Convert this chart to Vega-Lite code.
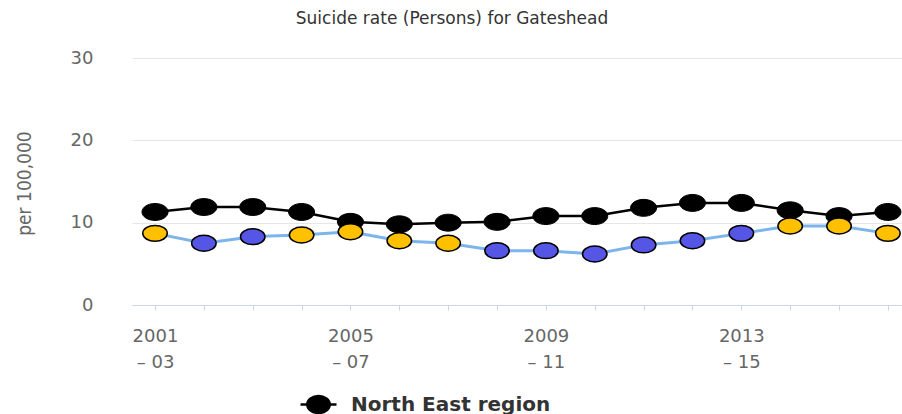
{
  "$schema": "https://vega.github.io/schema/vega-lite/v6.json",
  "width": 770,
  "height": 247,
  "autosize": {"type": "none"},
  "padding": {"left": 132, "top": 58, "right": 0, "bottom": 109},
  "background": "white",
  "title": {
    "text": "Suicide rate (Persons) for Gateshead",
    "font": "DejaVu Sans",
    "fontSize": 17,
    "fontWeight": "normal",
    "color": "#333333",
    "anchor": "middle",
    "frame": "group",
    "dx": -65,
    "offset": 21
  },
  "data": {
    "values": [
      {"period": "2001 – 03", "area": "North East region", "value": 11.3, "sig": "NE"},
      {"period": "2002 – 04", "area": "North East region", "value": 11.9, "sig": "NE"},
      {"period": "2003 – 05", "area": "North East region", "value": 11.9, "sig": "NE"},
      {"period": "2004 – 06", "area": "North East region", "value": 11.3, "sig": "NE"},
      {"period": "2005 – 07", "area": "North East region", "value": 10.1, "sig": "NE"},
      {"period": "2006 – 08", "area": "North East region", "value": 9.8, "sig": "NE"},
      {"period": "2007 – 09", "area": "North East region", "value": 10.0, "sig": "NE"},
      {"period": "2008 – 10", "area": "North East region", "value": 10.1, "sig": "NE"},
      {"period": "2009 – 11", "area": "North East region", "value": 10.8, "sig": "NE"},
      {"period": "2010 – 12", "area": "North East region", "value": 10.8, "sig": "NE"},
      {"period": "2011 – 13", "area": "North East region", "value": 11.8, "sig": "NE"},
      {"period": "2012 – 14", "area": "North East region", "value": 12.4, "sig": "NE"},
      {"period": "2013 – 15", "area": "North East region", "value": 12.4, "sig": "NE"},
      {"period": "2014 – 16", "area": "North East region", "value": 11.5, "sig": "NE"},
      {"period": "2015 – 17", "area": "North East region", "value": 10.8, "sig": "NE"},
      {"period": "2016 – 18", "area": "North East region", "value": 11.3, "sig": "NE"},
      {"period": "2001 – 03", "area": "Gateshead", "value": 8.7, "sig": "Similar"},
      {"period": "2002 – 04", "area": "Gateshead", "value": 7.5, "sig": "Lower"},
      {"period": "2003 – 05", "area": "Gateshead", "value": 8.3, "sig": "Lower"},
      {"period": "2004 – 06", "area": "Gateshead", "value": 8.5, "sig": "Similar"},
      {"period": "2005 – 07", "area": "Gateshead", "value": 8.9, "sig": "Similar"},
      {"period": "2006 – 08", "area": "Gateshead", "value": 7.8, "sig": "Similar"},
      {"period": "2007 – 09", "area": "Gateshead", "value": 7.5, "sig": "Similar"},
      {"period": "2008 – 10", "area": "Gateshead", "value": 6.6, "sig": "Lower"},
      {"period": "2009 – 11", "area": "Gateshead", "value": 6.6, "sig": "Lower"},
      {"period": "2010 – 12", "area": "Gateshead", "value": 6.2, "sig": "Lower"},
      {"period": "2011 – 13", "area": "Gateshead", "value": 7.3, "sig": "Lower"},
      {"period": "2012 – 14", "area": "Gateshead", "value": 7.8, "sig": "Lower"},
      {"period": "2013 – 15", "area": "Gateshead", "value": 8.7, "sig": "Lower"},
      {"period": "2014 – 16", "area": "Gateshead", "value": 9.6, "sig": "Similar"},
      {"period": "2015 – 17", "area": "Gateshead", "value": 9.6, "sig": "Similar"},
      {"period": "2016 – 18", "area": "Gateshead", "value": 8.7, "sig": "Similar"}
    ]
  },
  "encoding": {
    "x": {
      "field": "period",
      "type": "ordinal",
      "sort": null,
      "scale": {"type": "point", "padding": 0.38, "align": 0.62},
      "axis": {
        "title": null,
        "labelAngle": 0,
        "labelOverlap": false,
        "labelExpr": "(toNumber(slice(datum.value,0,4)) - 2001) % 4 == 0 ? [slice(datum.value,0,4), slice(datum.value,5)] : ''",
        "labelFont": "DejaVu Sans",
        "labelFontSize": 18,
        "labelColor": "#666666",
        "labelLineHeight": 26,
        "labelPadding": 17,
        "labelBaseline": "top",
        "domainColor": "#ccd6eb",
        "domainWidth": 1,
        "tickColor": "#ccd6eb",
        "tickSize": 5,
        "grid": false
      }
    },
    "y": {
      "field": "value",
      "type": "quantitative",
      "scale": {"domain": [0, 30], "nice": false, "zero": true},
      "axis": {
        "values": [0, 10, 20, 30],
        "title": "per 100,000",
        "titleFont": "DejaVu Sans Condensed",
        "titleFontSize": 19,
        "titleFontWeight": "normal",
        "titleColor": "#666666",
        "titleX": -108,
        "titleY": 125,
        "titleAngle": -90,
        "titleAlign": "center",
        "titleBaseline": "middle",
        "labelFont": "DejaVu Sans",
        "labelFontSize": 18,
        "labelColor": "#666666",
        "labelPadding": 39,
        "domain": false,
        "ticks": false,
        "grid": true,
        "gridColor": "#e6e6e6",
        "gridWidth": 1
      }
    }
  },
  "layer": [
    {
      "transform": [{"filter": "datum.area == 'North East region'"}],
      "mark": {"type": "line", "strokeWidth": 2.5},
      "encoding": {
        "color": {
          "field": "area",
          "type": "nominal",
          "scale": {"domain": ["North East region"], "range": ["#000000"]},
          "legend": {
            "title": null,
            "orient": "none",
            "legendX": 174,
            "legendY": 334,
            "padding": 0,
            "symbolType": "M-1.6,0H-1M1,0H1.6M-1,0A1,0.75 0 1,0 1,0A1,0.75 0 1,0 -1,0Z",
            "symbolSize": 506,
            "symbolFillColor": "#000000",
            "symbolStrokeColor": "#000000",
            "symbolStrokeWidth": 2.5,
            "labelFont": "DejaVu Sans",
            "labelFontSize": 20,
            "labelFontWeight": "bold",
            "labelColor": "#333333",
            "labelOffset": 20,
            "labelLimit": 500
          }
        }
      }
    },
    {
      "transform": [{"filter": "datum.area == 'North East region'"}],
      "mark": {
        "type": "point",
        "filled": true,
        "shape": "M-1,0A1,0.65 0 1,0 1,0A1,0.65 0 1,0 -1,0Z",
        "size": 680,
        "opacity": 1,
        "stroke": "#000000",
        "strokeWidth": 1
      },
      "encoding": {
        "color": {"field": "area", "type": "nominal"}
      }
    },
    {
      "transform": [{"filter": "datum.area == 'Gateshead'"}],
      "mark": {"type": "line", "strokeWidth": 3, "color": "#7cb5ec"},
      "encoding": {}
    },
    {
      "transform": [{"filter": "datum.area == 'Gateshead'"}],
      "mark": {
        "type": "point",
        "filled": true,
        "shape": "M-1,0A1,0.65 0 1,0 1,0A1,0.65 0 1,0 -1,0Z",
        "size": 600,
        "opacity": 1,
        "stroke": "#000000",
        "strokeWidth": 1.5
      },
      "encoding": {
        "fill": {
          "field": "sig",
          "type": "nominal",
          "scale": {"domain": ["Similar", "Lower"], "range": ["#FFC000", "#5555E6"]},
          "legend": null
        }
      }
    }
  ],
  "config": {
    "view": {"stroke": null}
  }
}
